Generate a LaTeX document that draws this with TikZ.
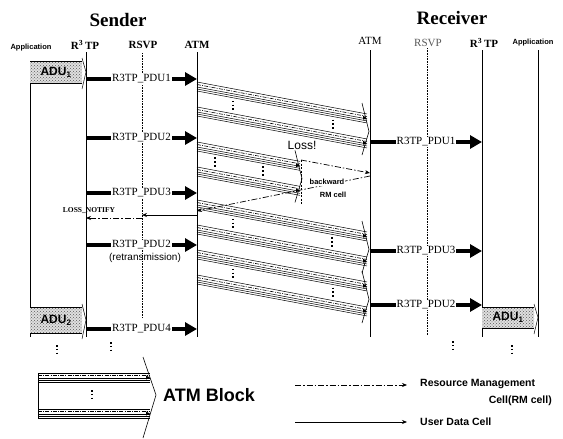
\documentclass[tikz,border=0pt]{standalone}
\usepackage{fontspec}
\setmainfont{Liberation Serif}
\setsansfont{Liberation Sans}
\usetikzlibrary{arrows.meta,patterns,positioning}

\tikzset{
  title/.style={font=\fontsize{19}{19}\selectfont\bfseries, inner sep=0pt},
  colhead/.style={font=\fontsize{11}{11}\selectfont\bfseries, inner sep=0pt},
  apphead/.style={font=\sffamily\fontsize{7.5}{7.5}\selectfont\bfseries, inner sep=0pt},
  lifeline/.style={line width=0.8pt},
  rsvpline/.style={line width=0.6pt, densely dotted},
  pdu/.style={line width=4pt, -{Triangle[length=12pt,width=13pt]}},
  pdulabel/.style={fill=white, inner sep=1pt, font=\fontsize{11}{11}\selectfont},
  rmcell/.style={line width=0.7pt, dash pattern=on 6pt off 2pt on 1.5pt off 2pt, -{Stealth[length=5pt,width=4pt]}},
  datacell/.style={line width=0.7pt, -{Stealth[length=5pt,width=4pt]}},
  cellline/.style={line width=0.5pt},
  celldots/.style={line width=0.6pt, dash pattern=on 4pt off 1.2pt on 1pt off 1.2pt},
  ellip/.style={line width=1.6pt, dash pattern=on 1.6pt off 2.2pt},
  adufill/.style={preaction={fill=gray!25}, pattern=crosshatch dots, pattern color=gray!70!black},
  adutext/.style={font=\sffamily\fontsize{12}{12}\selectfont\bfseries, inner sep=0pt},
  smalltext/.style={font=\sffamily\fontsize{7.5}{8}\selectfont\bfseries, inner sep=1pt},
  legendtext/.style={font=\sffamily\fontsize{10.5}{11}\selectfont\bfseries, inner sep=0pt},
}

% one bundle of cells, #1 = offset, #2 = length
\newcommand{\cellbundle}[2]{%
  \foreach \k in {0,5,7,9} \draw[cellline] (0,#1+\k) -- (#2,#1+\k);
  \draw[celldots] (0,#1+2.5) -- (#2,#1+2.5);
  \fill (#2-4,#1+2.5) -- (#2,#1+4.5) -- (#2-4,#1+6.5) -- cycle;
}
% ATM block on the link, #1 = start y, #2 = length, #3 = dots
\newcommand{\atmblock}[3]{%
  \begin{scope}[shift={(197,#1)}, yslant=-0.188]
    \cellbundle{0}{#2}
    \cellbundle{25}{#2}
    \draw[line width=0.6pt] (#2-5,-10) -- (#2+2,17) -- (#2-5,42);
    \foreach \d in {#3} \draw[ellip] (\d,12) -- (\d,22);
  \end{scope}}
% ADU arrow, #1 name, #2 x0, #3 x1, #4 top, #5 bottom, #6 text
\newcommand{\adu}[6]{%
  \fill[adufill] (#2,#4) rectangle (#3-4,#5);
  \draw[cellline] (#2,#4) -- (#3-4,#4) (#2,#5) -- (#3-4,#5);
  \draw[cellline] (#3-4,#4-3) -- (#3,{(#4+#5)/2}) -- (#3-4,#5+6);
  \node[adutext] (#1) at ({(#2+#3)/2-2},{(#4+#5)/2}) {ADU\textsubscript{#6}};
}

\begin{document}
\begin{tikzpicture}[x=1pt,y=-1pt,line join=round]
\useasboundingbox (0,0) rectangle (563,439);

% titles and column heads
\node[title] (sender) at (118,20) {Sender};
\node[title] (receiver) at (452,18) {Receiver};
\node[apphead] (sAppH) at (31,48) {Application};
\node[colhead] (sR3H) at (85,45) {R\textsuperscript{3}\,TP};
\node[colhead] (sRsvpH) at (143,45) {RSVP};
\node[colhead] (sAtmH) at (197,45) {ATM};
\node[colhead, font=\fontsize{11}{11}\selectfont] (rAtmH) at (370,41) {ATM};
\node[colhead, font=\fontsize{11}{11}\selectfont, text=gray!70!black] (rRsvpH) at (428,43) {RSVP};
\node[colhead] (rR3H) at (484,43) {R\textsuperscript{3}\,TP};
\node[apphead] (rAppH) at (533,43) {Application};

% lifelines
\foreach \n/\x/\t in {sApp/30/61,sR3/86/52,sAtm/197/52,rAtm/370/50,rR3/482/50,rApp/538/50}
  \draw[lifeline] (\x,\t) coordinate (\n) -- (\x,337);
\draw[rsvpline] (142,53) coordinate (sRsvp) -- (142,318);
\draw[rsvpline] (427,48) coordinate (rRsvp) -- (427,335);

% ATM blocks
\atmblock{82}{170}{36,136}
\atmblock{142}{103}{18,66}
\atmblock{200}{170}{36,135}
\atmblock{250}{170}{36,136}

% ADUs
\adu{sAdu1}{30}{86}{61}{83}{1}
\adu{sAdu2}{30}{86}{307}{333}{2}
\adu{rAdu1}{482}{538}{307}{328}{1}

% sender PDUs
\foreach \y/\t/\k in {79/1/1,138/2/2,193/3/3,245/2/4,329/4/5}
  \draw[pdu] (sR3 |- 0,\y) -- (sAtm |- 0,\y) node[pdulabel,midway] (sPdu\k) {R3TP\_PDU\t};
\node[font=\sffamily\fontsize{10}{10}\selectfont, inner sep=0pt] (retrans) at (145,258) {(retransmission)};

% receiver PDUs
\foreach \y/\t/\k in {142/1/1,251/3/2,305/2/3}
  \draw[pdu] (rAtm |- 0,\y) -- (rR3 |- 0,\y) node[pdulabel,midway] (rPdu\k) {R3TP\_PDU\t};

% loss and RM cells
\node[font=\sffamily\fontsize{12}{12}\selectfont, inner sep=0pt] (loss) at (302,145) {Loss!};
\coordinate (lossPt) at (301,160);
\draw[line width=0.5pt, dash pattern=on 2pt off 1.5pt] (lossPt) -- (301,205);
\draw[rmcell] (lossPt) -- (rAtm |- 0,173);
\draw[rmcell] (rAtm |- 0,176) -- (sAtm |- 0,211);
\node[smalltext, fill=white] (backward) at (327,182) {backward};
\node[smalltext] (rmcell) at (333,195) {RM cell};
\draw[datacell] (sAtm |- 0,215) -- (sRsvp |- 0,215);
\draw[rmcell] (sRsvp |- 0,218) -- (sR3 |- 0,218);
\node[font=\fontsize{7.5}{8}\selectfont\bfseries, inner sep=0pt] (notify) at (89,211) {LOSS\_NOTIFY};

% more to come
\foreach \x/\y in {57/350,111/347,453/346,512/350}
  \draw[ellip] (\x,\y-5) -- (\x,\y+5);

% legend: ATM block
\begin{scope}[shift={(38,373)}]
  \cellbundle{0}{112}
  \cellbundle{36}{112}
  \draw[lifeline] (0,0) -- (0,45);
  \draw[line width=0.6pt] (105,-16) -- (118,22) -- (105,65);
  \draw[ellip] (54,17) -- (54,27);
\end{scope}
\node[font=\sffamily\fontsize{18}{18}\selectfont\bfseries, inner sep=0pt] (blockLbl) at (209,395) {ATM Block};

% legend: cells
\coordinate (rmA) at (295,385);
\coordinate (rmB) at (407,385);
\draw[rmcell] (rmA) -- (rmB);
\node[legendtext, anchor=west] (rmLbl) at (420,384) {Resource Management};
\node[legendtext, anchor=east] (rmLbl2) at (552,401) {Cell(RM cell)};
\coordinate (udA) at (295,422);
\coordinate (udB) at (407,422);
\draw[datacell] (udA) -- (udB);
\node[legendtext, anchor=west] (udLbl) at (420,422) {User Data Cell};
\end{tikzpicture}
\end{document}
